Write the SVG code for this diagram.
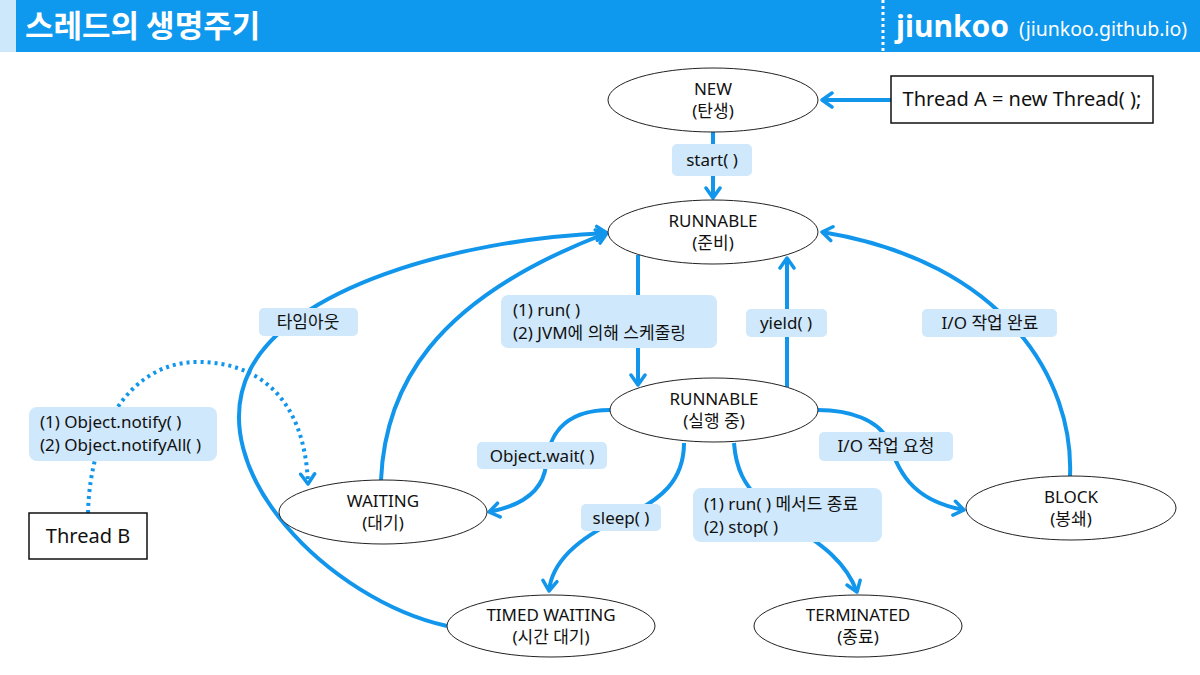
<svg xmlns="http://www.w3.org/2000/svg" width="1200" height="675" viewBox="0 0 1200 675">
<defs>
<style>
.t{font-family:"Noto Sans","Noto Sans CJK KR",sans-serif;font-size:17px;fill:#111}
.c{text-anchor:middle}
.node{fill:#fff;stroke:#222;stroke-width:1}
.box{fill:#fff;stroke:#111;stroke-width:1.5}
.lbl{fill:#cfe8fb}
.con{fill:none;stroke:#1296ec;stroke-width:4}
.dot{fill:none;stroke:#1296ec;stroke-width:4;stroke-dasharray:3 4}
</style>
<marker id="ar" viewBox="-13 -9 15 18" refX="0" refY="0" markerWidth="15" markerHeight="18" markerUnits="userSpaceOnUse" orient="auto">
<path d="M-10,-7 L0,0 L-10,7" fill="none" stroke="#1296ec" stroke-width="3.5" stroke-linecap="round" stroke-linejoin="round"/>
</marker>
</defs>
<rect width="1200" height="675" fill="#fff"/>
<g id="header">
<rect x="0" y="0" width="16" height="52" fill="#cde8fb"/>
<rect x="16" y="0" width="1184" height="52" fill="#0e98ee"/>
<text x="25" y="37" font-family="'Noto Sans CJK KR',sans-serif" font-size="31" font-weight="bold" fill="#fff">스레드의 생명주기</text>
<line x1="883" y1="0" x2="883" y2="52" stroke="#fff" stroke-width="3" stroke-dasharray="3 3"/>
<text x="896" y="37" font-family="'Noto Sans',sans-serif" font-size="30" font-weight="bold" fill="#fff">jiunkoo</text>
<text x="1019" y="36" font-family="'Noto Sans',sans-serif" font-size="19.5" fill="#fff">(jiunkoo.github.io)</text>
</g>
<g id="connectors">
<path class="con" d="M891,100 L822,100" marker-end="url(#ar)"/>
<path class="con" d="M713,132 L713,198" marker-end="url(#ar)"/>
<path class="con" d="M638,255 L638,385" marker-end="url(#ar)"/>
<path class="con" d="M787,387 L787,258" marker-end="url(#ar)"/>
<path class="con" d="M1070,476 C1074,380 1005,262 822,232" marker-end="url(#ar)"/>
<path class="con" d="M447,626 C330,600 200,470 250,370 C290,290 450,240 607,233" marker-end="url(#ar)"/>
<path class="con" d="M381,480 C385,390 430,300 607,233" marker-end="url(#ar)"/>
<path class="con" d="M610,410 C560,410 548,440 546,465 C543,492 520,506 489,512" marker-end="url(#ar)"/>
<path class="con" d="M684,443 C684,480 662,500 622,518 C582,536 552,560 549,591" marker-end="url(#ar)"/>
<path class="con" d="M734,443 C736,470 745,485 760,500 C790,530 840,545 857,592" marker-end="url(#ar)"/>
<path class="con" d="M818,410 C850,410 878,420 888,440 C898,470 910,500 964,510" marker-end="url(#ar)"/>
<path class="dot" d="M88,513 C90,430 130,362 198,362 C260,362 305,400 308,484" marker-end="url(#ar)"/>
</g>
<g id="labels">
<rect class="lbl" x="672" y="144" width="80" height="32" rx="5"/>
<text class="t c" x="712" y="166">start( )</text>
<rect class="lbl" x="501" y="295" width="216" height="53" rx="7"/>
<text class="t" x="513" y="316">(1) run( )</text>
<text class="t" x="513" y="339">(2) JVM에 의해 스케줄링</text>
<rect class="lbl" x="746" y="309" width="81" height="28" rx="5"/>
<text class="t c" x="786" y="329">yield( )</text>
<rect class="lbl" x="922" y="309" width="135" height="28" rx="5"/>
<text class="t c" x="990" y="329">I/O 작업 완료</text>
<rect class="lbl" x="259" y="308" width="99" height="28" rx="5"/>
<text class="t c" x="308" y="328">타임아웃</text>
<rect class="lbl" x="29" y="407" width="188" height="54" rx="8"/>
<text class="t" x="40" y="428">(1) Object.notify( )</text>
<text class="t" x="40" y="451">(2) Object.notifyAll( )</text>
<rect class="lbl" x="477" y="442" width="130" height="27" rx="5"/>
<text class="t c" x="542" y="462">Object.wait( )</text>
<rect class="lbl" x="819" y="432" width="134" height="29" rx="5"/>
<text class="t c" x="886" y="452">I/O 작업 요청</text>
<rect class="lbl" x="581" y="504" width="80" height="27" rx="5"/>
<text class="t c" x="621" y="524">sleep( )</text>
<rect class="lbl" x="693" y="488" width="189" height="54" rx="8"/>
<text class="t" x="704" y="510">(1) run( ) 메서드 종료</text>
<text class="t" x="704" y="533">(2) stop( )</text>
</g>
<g id="node-new">
<ellipse class="node" cx="713" cy="100" rx="105" ry="32"/>
<text class="t c" x="713" y="95">NEW</text>
<text class="t c" x="713" y="117">(탄생)</text>
</g>
<g id="node-threadA">
<rect class="box" x="891" y="76" width="262" height="47"/>
<text class="t c" x="1022" y="106" style="font-size:20px">Thread A = new Thread( );</text>
</g>
<g id="node-runnable-ready">
<ellipse class="node" cx="713" cy="232" rx="105" ry="32"/>
<text class="t c" x="713" y="227">RUNNABLE</text>
<text class="t c" x="713" y="249">(준비)</text>
</g>
<g id="node-runnable-run">
<ellipse class="node" cx="714" cy="410" rx="104" ry="32"/>
<text class="t c" x="714" y="405">RUNNABLE</text>
<text class="t c" x="714" y="427">(실행 중)</text>
</g>
<g id="node-waiting">
<ellipse class="node" cx="383" cy="512" rx="104" ry="32"/>
<text class="t c" x="383" y="507">WAITING</text>
<text class="t c" x="383" y="529">(대기)</text>
</g>
<g id="node-timed">
<ellipse class="node" cx="551" cy="626" rx="104" ry="31"/>
<text class="t c" x="551" y="621">TIMED WAITING</text>
<text class="t c" x="551" y="643">(시간 대기)</text>
</g>
<g id="node-terminated">
<ellipse class="node" cx="858" cy="626" rx="104" ry="31"/>
<text class="t c" x="858" y="621">TERMINATED</text>
<text class="t c" x="858" y="643">(종료)</text>
</g>
<g id="node-block">
<ellipse class="node" cx="1071" cy="508" rx="105" ry="32"/>
<text class="t c" x="1071" y="503">BLOCK</text>
<text class="t c" x="1071" y="525">(봉쇄)</text>
</g>
<g id="node-threadB">
<rect class="box" x="29" y="513" width="118" height="46"/>
<text class="t c" x="88" y="543" style="font-size:20px">Thread B</text>
</g>
</svg>
